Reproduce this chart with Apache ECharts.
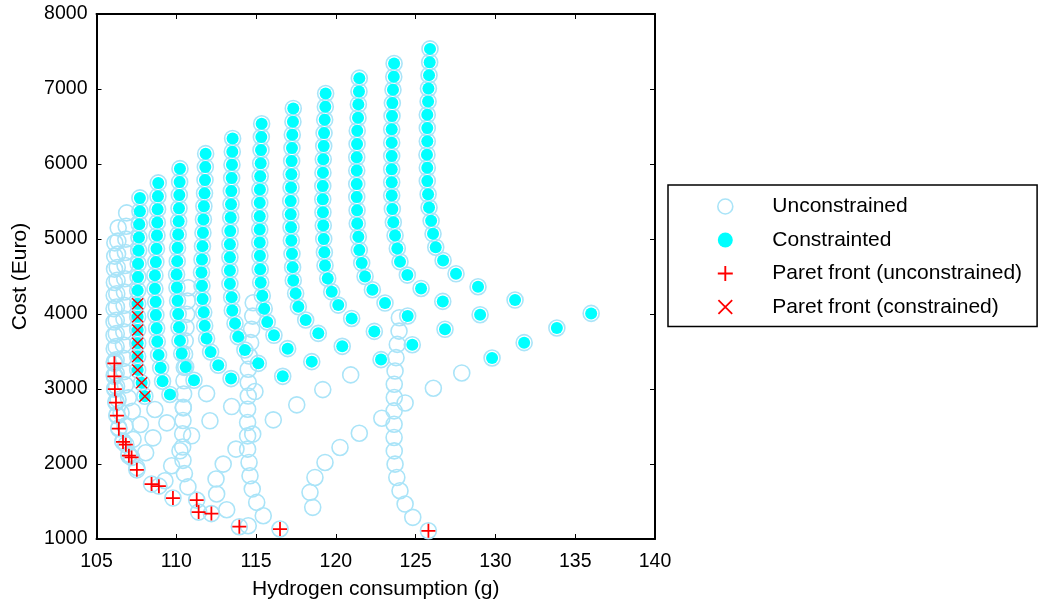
<!DOCTYPE html>
<html>
<head>
<meta charset="utf-8">
<script src="https://cdn.jsdelivr.net/npm/echarts@6/dist/echarts.min.js"></script>
<style>
  html, body { margin: 0; padding: 0; background: #fff; }
  #chart { width: 1040px; height: 605px; }
</style>
</head>
<body>
<div id="chart"></div>
<script>
// hydrogen (g) of each design column, from the left column (lowest top cost) to the right one
var columnH2 = [
  [106.15,106.14,106.13,106.12,106.11,106.10,106.10,106.10,106.11,106.12,106.12,106.15,106.22,106.28,106.40,106.66,107.03,107.53,109.29,112.53,118.55],
  [106.36,106.34,106.32,106.30,106.29,106.27,106.25,106.24,106.24,106.23,106.23,106.23,106.26,106.35,106.54,106.79,107.29,108.08,109.71,112.49,118.38],
  [106.89,106.86,106.84,106.81,106.79,106.77,106.75,106.73,106.72,106.71,106.69,106.69,106.72,106.81,107.00,107.25,107.75,108.54,110.23,112.94,118.69],
  [107.72,107.72,107.68,107.66,107.64,107.61,107.60,107.58,107.58,107.58,107.58,107.58,107.58,107.58,107.83,108.03,108.66,109.41,110.96,113.74,119.32],
  [108.87,108.85,108.83,108.81,108.79,108.76,108.72,108.66,108.66,108.71,108.72,108.77,108.81,108.89,109.02,109.14,109.60,110.44,112.11,114.79,120.26],
  [110.23,110.21,110.19,110.17,110.15,110.12,110.08,110.06,110.02,110.04,110.08,110.12,110.17,110.23,110.34,110.59,111.11,111.90,113.47,116.08,121.47],
  [111.84,111.82,111.80,111.77,111.73,111.70,111.67,111.64,111.61,111.58,111.61,111.65,111.72,111.78,111.90,112.15,112.63,113.43,114.93,117.55,122.88],
  [113.53,113.51,113.49,113.47,113.45,113.43,113.41,113.38,113.36,113.36,113.36,113.36,113.47,113.51,113.68,113.88,114.30,115.14,116.67,119.18,124.34],
  [115.35,115.33,115.31,115.29,115.26,115.24,115.23,115.23,115.23,115.23,115.24,115.26,115.29,115.39,115.51,115.70,116.12,116.98,118.49,120.93,126.11],
  [117.33,117.31,117.27,117.25,117.23,117.21,117.19,117.17,117.17,117.19,117.21,117.25,117.29,117.33,117.48,117.65,118.11,118.90,120.40,122.83,127.89],
  [119.36,119.34,119.30,119.26,119.24,119.21,119.19,119.18,119.18,119.19,119.21,119.24,119.28,119.32,119.49,119.74,120.15,120.99,122.41,124.79,129.79],
  [121.47,121.45,121.41,121.39,121.34,121.33,121.31,121.31,121.31,121.31,121.33,121.34,121.41,121.47,121.62,121.83,122.29,123.08,124.50,126.84,131.80],
  [123.65,123.63,123.58,123.54,123.52,123.50,123.50,123.50,123.50,123.50,123.50,123.54,123.60,123.71,123.85,124.02,124.48,125.34,126.70,129.04,133.85],
  [125.90,125.88,125.84,125.80,125.78,125.73,125.73,125.73,125.71,125.73,125.73,125.78,125.84,125.97,126.09,126.26,126.72,127.53,128.91,131.23,136.00]
];
// cost of the top point of each column (Euro)
var columnTopCost = [4949,5149,5348,5548,5748,5938,6138,6341,6537,6741,6940,7145,7340,7535];
// cost drop from the top point, row by row (same for every column)
var rowCostDrop = [0,177,350,528,701,878,1055,1233,1411,1584,1761,1939,2116,2293,2466,2644,2821,2999,3172,3349,3527];
// how many points from the top of each column meet the constraint
var constrainedCount = [0,0,0,16,17,17,18,19,19,20,21,21,21,21];

// other unconstrained designs (lower strings)
var stringAH2 = [123.98,123.96,123.85,123.77,123.71,123.66,123.66,123.65,123.65,123.65,123.66,123.71,123.82,124.02,124.34,124.82];
var stringACost = [3951,3772,3595,3418,3240,3063,2886,2708,2531,2354,2175,1998,1821,1643,1466,1289];
var stringBH2 = [114.82,114.79,114.72,114.66,114.57,114.51,114.51,114.51,114.47,114.47,114.47,114.47,114.56,114.62,114.76,115.04,115.45];
var stringBCost = [4150,3972,3795,3618,3440,3263,3086,2907,2730,2553,2375,2198,2021,1843,1666,1488,1310];
var stringCH2 = [110.75,110.70,110.65,110.61,110.56,110.52,110.50,110.48,110.46,110.44,110.42,110.40,110.40,110.42,110.51,110.73];
var stringCCost = [4350,4173,3996,3819,3642,3465,3288,3111,2934,2757,2580,2403,2226,2049,1872,1695];
var looseH2 = [113.16,114.51];
var looseCost = [1390,1177];

// Pareto fronts
var paretoUncH2 = [106.12,106.12,106.15,106.22,106.28,106.40,106.66,106.84,107.03,107.20,107.53,108.45,108.91,109.79,111.28,111.40,112.20,113.95,116.50,125.80];
var paretoUncCost = [3343,3170,2997,2817,2644,2471,2295,2258,2111,2087,1922,1732,1705,1546,1519,1359,1339,1164,1133,1110];
var paretoConH2 = [107.58,107.58,107.58,107.58,107.58,107.58,107.83,108.03];
var paretoConCost = [4137,3964,3787,3609,3432,3255,3082,2904];

var xTicks = { min: 105, max: 140, interval: 5 };
var yTicks = { min: 1000, max: 8000, interval: 1000 };

function pairs(xs, ys) {
  var out = [];
  for (var i = 0; i < xs.length; i++) out.push([xs[i], ys[i]]);
  return out;
}

var unconstrained = [];
var constrained = [];
columnH2.forEach(function (col, c) {
  col.forEach(function (h, k) {
    var p = [h, columnTopCost[c] - rowCostDrop[k]];
    unconstrained.push(p);
    if (k < constrainedCount[c]) constrained.push(p);
  });
});
unconstrained = unconstrained
  .concat(pairs(stringAH2, stringACost))
  .concat(pairs(stringBH2, stringBCost))
  .concat(pairs(stringCH2, stringCCost))
  .concat(pairs(looseH2, looseCost))
  .concat(pairs(paretoUncH2, paretoUncCost));

var FONT = 'Liberation Sans, Arial, Helvetica, sans-serif';
var PLUS = 'path://M0,7 L16,7 L16,9 L0,9 Z M7,0 L9,0 L9,16 L7,16 Z';
var CROSS = 'path://M0,1 L1,0 L12,11 L11,12 Z M11,0 L12,1 L1,12 L0,11 Z';

var chart = echarts.init(document.getElementById('chart'), null, { renderer: 'canvas' });

function xAxisOpt(pos) {
  return {
    type: 'value', position: pos,
    min: xTicks.min, max: xTicks.max, interval: xTicks.interval,
    axisLine: { show: true, onZero: false, lineStyle: { color: '#000', width: 2 } },
    axisTick: { show: true, inside: true, length: 5, lineStyle: { color: '#000', width: 1 } },
    axisLabel: { show: pos === 'bottom', color: '#000', fontSize: 19.5, fontFamily: FONT, margin: 13 },
    splitLine: { show: false },
    name: pos === 'bottom' ? 'Hydrogen consumption (g)' : '',
    nameLocation: 'middle', nameGap: 40,
    nameTextStyle: { color: '#000', fontSize: 21, fontFamily: FONT }
  };
}
function yAxisOpt(pos) {
  return {
    type: 'value', position: pos,
    min: yTicks.min, max: yTicks.max, interval: yTicks.interval,
    axisLine: { show: true, onZero: false, lineStyle: { color: '#000', width: 2 } },
    axisTick: { show: true, inside: true, length: 5, lineStyle: { color: '#000', width: 1 } },
    axisLabel: {
      show: pos === 'left', color: '#000', fontSize: 19.5, fontFamily: FONT, margin: 9,
      formatter: function (v) { return String(v); }
    },
    splitLine: { show: false },
    name: pos === 'left' ? 'Cost (Euro)' : '',
    nameLocation: 'middle', nameGap: 66,
    nameTextStyle: { color: '#000', fontSize: 21, fontFamily: FONT }
  };
}

var option = {
  animation: false,
  backgroundColor: '#fff',
  grid: { left: 96.5, right: 385, top: 14, bottom: 65 },
  xAxis: [xAxisOpt('bottom'), xAxisOpt('top')],
  yAxis: [yAxisOpt('left'), yAxisOpt('right')],
  legend: {
    orient: 'vertical',
    left: 668, top: 185,
    padding: [11, 15, 9, 49],
    itemWidth: 20, itemHeight: 15, itemGap: 12.5,
    borderColor: '#000', borderWidth: 1.5,
    backgroundColor: '#fff',
    selectedMode: false,
    textStyle: { color: '#000', fontSize: 21, fontFamily: FONT, padding: [0, 0, 0, 32], lineHeight: 21 },
    data: [
      { name: 'Unconstrained', itemStyle: { borderWidth: 1.6 } },
      'Constrainted',
      'Paret front (unconstrained)',
      'Paret front (constrained)'
    ]
  },
  series: [
    {
      name: 'Unconstrained', type: 'scatter', silent: true,
      symbol: 'circle', symbolSize: 16,
      itemStyle: { color: 'rgba(255,255,255,0)', borderColor: '#aae4f8', borderWidth: 1.6, opacity: 1 },
      data: unconstrained, z: 2
    },
    {
      name: 'Constrainted', type: 'scatter', silent: true,
      symbol: 'circle', symbolSize: 12,
      itemStyle: { color: '#00ffff', opacity: 1 },
      data: constrained, z: 3
    },
    {
      name: 'Paret front (unconstrained)', type: 'scatter', silent: true,
      symbol: PLUS, symbolSize: 14,
      itemStyle: { color: '#ff0000', opacity: 1 },
      data: pairs(paretoUncH2, paretoUncCost), z: 4
    },
    {
      name: 'Paret front (constrained)', type: 'scatter', silent: true,
      symbol: CROSS, symbolSize: 12,
      itemStyle: { color: '#ff0000', opacity: 1 },
      data: pairs(paretoConH2, paretoConCost), z: 5
    }
  ]
};
chart.setOption(option);
</script>
</body>
</html>
